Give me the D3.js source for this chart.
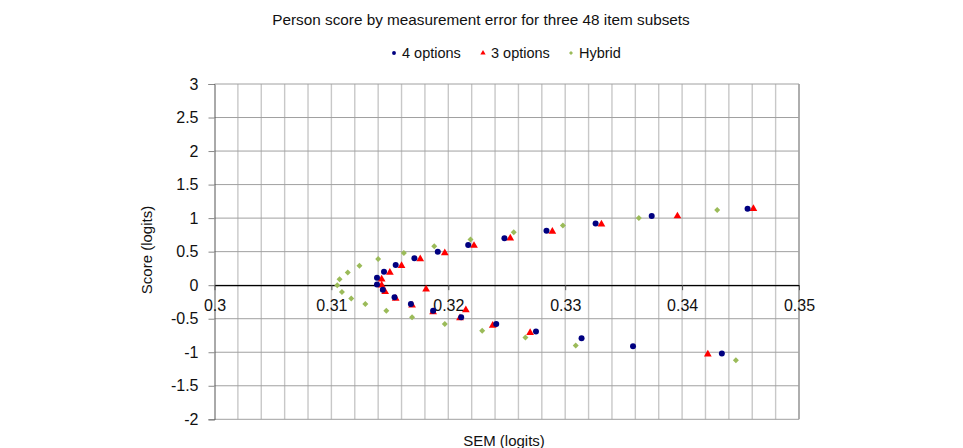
<!DOCTYPE html>
<html>
<head>
<meta charset="utf-8">
<script src="https://cdn.jsdelivr.net/npm/d3@7/dist/d3.min.js"></script>
<style>
  body { margin: 0; background: #fff; }
  text { font-family: "Liberation Sans", Arial, sans-serif; }
</style>
</head>
<body>
<script>
// values
var xTicks = [0.30, 0.31, 0.32, 0.33, 0.34, 0.35];
var xTickLabels = ["0.3", "0.31", "0.32", "0.33", "0.34", "0.35"];
var yTicks = [3, 2.5, 2, 1.5, 1, 0.5, 0, -0.5, -1, -1.5, -2];
var yTickLabels = ["3", "2.5", "2", "1.5", "1", "0.5", "0", "-0.5", "-1", "-1.5", "-2"];

var sem4 = [0.3139, 0.3139, 0.3144, 0.3145, 0.3155, 0.3154, 0.3168, 0.3171, 0.3191, 0.3217, 0.3187,
            0.3211, 0.3241, 0.3248, 0.3284, 0.3326, 0.3275, 0.3314, 0.3374, 0.3358, 0.3456, 0.3434];
var score4 = [0.11, 0.01, -0.07, 0.20, 0.30, -0.18, -0.28, 0.40, 0.50, 0.60, -0.38,
              -0.48, -0.58, 0.70, 0.81, 0.92, -0.69, -0.79, 1.03, -0.91, 1.14, -1.02];

var sem3 = [0.3143, 0.3143, 0.3146, 0.3150, 0.3160, 0.3155, 0.3169, 0.3176, 0.3181, 0.3197, 0.3222,
            0.3187, 0.3215, 0.3210, 0.3238, 0.3253, 0.3289, 0.3331, 0.3270, 0.3396, 0.3461, 0.3422];
var score3 = [0.09, 0.00, -0.10, 0.19, 0.29, -0.20, -0.30, 0.39, -0.06, 0.48, 0.59,
              -0.40, -0.37, -0.49, -0.60, 0.70, 0.80, 0.91, -0.71, 1.03, 1.14, -1.03];

var semH = [0.3105, 0.3107, 0.3109, 0.3114, 0.3117, 0.3124, 0.3129, 0.3140, 0.3147, 0.3162, 0.3169,
            0.3188, 0.3197, 0.3219, 0.3229, 0.3256, 0.3298, 0.3266, 0.3309, 0.3363, 0.3430, 0.3446];
var scoreH = [0.00, 0.09, -0.10, 0.19, -0.20, 0.29, -0.28, 0.39, -0.38, 0.48, -0.48,
              0.58, -0.58, 0.68, -0.68, 0.79, 0.89, -0.78, -0.90, 1.00, 1.12, -1.12];

var w = 963, h = 448;

var svg = d3.select("body").append("svg")
    .attr("width", w)
    .attr("height", h);

var x = d3.scaleLinear().domain([0.3, 0.35]).range([214.5, 799]);
var y = d3.scaleLinear().domain([-2, 3]).range([419.3, 84]);

// vertical grid every 0.002
var vGrid = d3.range(1, 26).map(function (i) { return 0.3 + i * 0.002; });
svg.append("g").selectAll("line")
    .data(vGrid)
    .enter().append("line")
    .attr("x1", function (d) { return x(d); })
    .attr("x2", function (d) { return x(d); })
    .attr("y1", y(3))
    .attr("y2", y(-2))
    .attr("stroke", function (d, i) { return i == 24 ? "#8c8c8c" : "#c8c8c8"; })
    .attr("stroke-width", 1.4);

// horizontal grid
svg.append("g").selectAll("line")
    .data(yTicks)
    .enter().append("line")
    .attr("x1", x(0.3))
    .attr("x2", x(0.35))
    .attr("y1", function (d) { return y(d); })
    .attr("y2", function (d) { return y(d); })
    .attr("stroke", "#a0a0a0")
    .attr("stroke-width", 1);

// y axis
var yAxis = d3.axisLeft(y)
    .tickValues(yTicks)
    .tickFormat(function (d, i) { return yTickLabels[i]; })
    .tickSize(6)
    .tickPadding(10);
var gy = svg.append("g")
    .attr("transform", "translate(" + x(0.3) + ",0)")
    .call(yAxis);
gy.select(".domain").attr("stroke", "#555");
gy.selectAll(".tick line").attr("stroke", "#888");
gy.selectAll("text")
    .attr("font-size", "16px")
    .attr("fill", "#111")
    .style("font-family", "'Liberation Sans', Arial, sans-serif");

// x axis on the zero line
var xAxis = d3.axisBottom(x)
    .tickValues(xTicks)
    .tickFormat(function (d, i) { return xTickLabels[i]; })
    .tickSizeInner(5)
    .tickSizeOuter(0)
    .tickPadding(9);
var gx = svg.append("g")
    .attr("transform", "translate(0," + y(0) + ")")
    .call(xAxis);
gx.select(".domain").attr("stroke", "#000").attr("stroke-width", 1.2);
gx.selectAll(".tick line").attr("stroke", "#555");
gx.selectAll("text")
    .attr("font-size", "16px")
    .attr("fill", "#111")
    .style("font-family", "'Liberation Sans', Arial, sans-serif");

// points
var s4 = sem4.map(function (d, i) { return [d, score4[i]]; });
var s3 = sem3.map(function (d, i) { return [d, score3[i]]; });
var sH = semH.map(function (d, i) { return [d, scoreH[i]]; });

svg.append("g").selectAll("path")
    .data(sH).enter().append("path")
    .attr("d", d3.symbol().type(d3.symbolSquare).size(18))
    .attr("transform", function (d) { return "translate(" + x(d[0]) + "," + y(d[1]) + ") rotate(45)"; })
    .attr("fill", "#9bbb59");

svg.append("g").selectAll("path")
    .data(s3).enter().append("path")
    .attr("d", d3.symbol().type(d3.symbolTriangle).size(26))
    .attr("transform", function (d) { return "translate(" + x(d[0]) + "," + y(d[1]) + ")"; })
    .attr("fill", "#ff0000");

svg.append("g").selectAll("circle")
    .data(s4).enter().append("circle")
    .attr("cx", function (d) { return x(d[0]); })
    .attr("cy", function (d) { return y(d[1]); })
    .attr("r", 3)
    .attr("fill", "#000080");

// title
svg.append("text")
    .attr("x", 481).attr("y", 25)
    .attr("text-anchor", "middle")
    .attr("font-size", "15.3px")
    .attr("fill", "#111")
    .text("Person score by measurement error for three 48 item subsets");

// legend
var legend = [
  { name: "4 options", x: 394, sym: "circle", col: "#000080" },
  { name: "3 options", x: 483, sym: "triangle", col: "#ff0000" },
  { name: "Hybrid", x: 571, sym: "diamond", col: "#9bbb59" }
];
var lg = svg.append("g").selectAll("g").data(legend).enter().append("g")
    .attr("transform", function (d) { return "translate(" + d.x + ",53)"; });
lg.append("path")
    .attr("d", function (d) {
      var t = d.sym == "circle" ? d3.symbolCircle : d.sym == "triangle" ? d3.symbolTriangle : d3.symbolSquare;
      return d3.symbol().type(t).size(d.sym == "diamond" ? 8 : 12)();
    })
    .attr("transform", function (d) { return d.sym == "diamond" ? "rotate(45)" : null; })
    .attr("fill", function (d) { return d.col; });
lg.append("text")
    .attr("x", 8).attr("y", 5)
    .attr("font-size", "14.5px")
    .attr("fill", "#111")
    .text(function (d) { return d.name; });

// axis titles
svg.append("text")
    .attr("transform", "translate(152,250) rotate(-90)")
    .attr("text-anchor", "middle")
    .attr("font-size", "15px")
    .attr("fill", "#111")
    .text("Score (logits)");

svg.append("text")
    .attr("x", 504).attr("y", 446)
    .attr("text-anchor", "middle")
    .attr("font-size", "15px")
    .attr("fill", "#111")
    .text("SEM (logits)");
</script>
</body>
</html>
